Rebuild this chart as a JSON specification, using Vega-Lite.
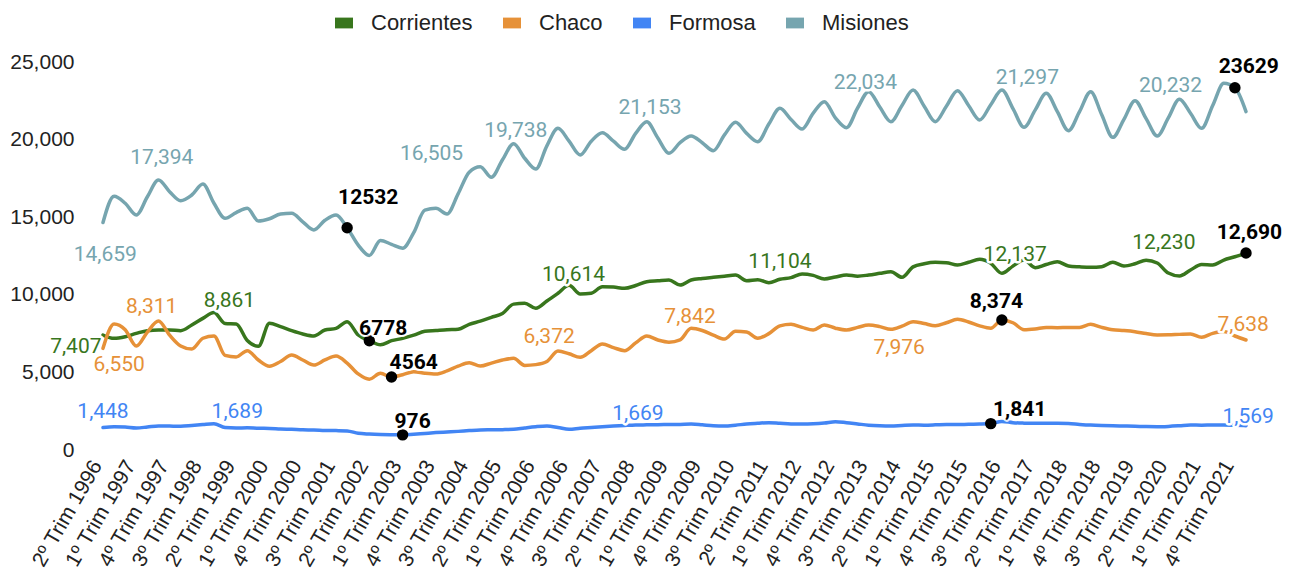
{
  "$schema": "https://vega.github.io/schema/vega-lite/v6.json",
  "width": 1143,
  "height": 388,
  "autosize": "none",
  "padding": {"left": 103, "top": 62, "right": 55, "bottom": 131},
  "background": "white",
  "datasets": {
    "series": [
      {"i":0,"Misiones":14659,"Corrientes":7407,"Chaco":6550,"Formosa":1448},
      {"i":1,"Misiones":16350,"Corrientes":7193,"Chaco":8117,"Formosa":1500},
      {"i":2,"Misiones":15900,"Corrientes":7300,"Chaco":7750,"Formosa":1480},
      {"i":3,"Misiones":15140,"Corrientes":7515,"Chaco":6700,"Formosa":1420},
      {"i":4,"Misiones":16320,"Corrientes":7687,"Chaco":7600,"Formosa":1480},
      {"i":5,"Misiones":17394,"Corrientes":7730,"Chaco":8311,"Formosa":1550},
      {"i":6,"Misiones":16645,"Corrientes":7730,"Chaco":7400,"Formosa":1540},
      {"i":7,"Misiones":16065,"Corrientes":7687,"Chaco":6700,"Formosa":1530},
      {"i":8,"Misiones":16430,"Corrientes":8052,"Chaco":6500,"Formosa":1580},
      {"i":9,"Misiones":17140,"Corrientes":8482,"Chaco":7200,"Formosa":1640},
      {"i":10,"Misiones":15900,"Corrientes":8861,"Chaco":7350,"Formosa":1689},
      {"i":11,"Misiones":14930,"Corrientes":8150,"Chaco":6100,"Formosa":1450},
      {"i":12,"Misiones":15300,"Corrientes":8117,"Chaco":6000,"Formosa":1420},
      {"i":13,"Misiones":15570,"Corrientes":7050,"Chaco":6400,"Formosa":1430},
      {"i":14,"Misiones":14750,"Corrientes":6680,"Chaco":5800,"Formosa":1400},
      {"i":15,"Misiones":14900,"Corrientes":8160,"Chaco":5400,"Formosa":1390},
      {"i":16,"Misiones":15200,"Corrientes":7945,"Chaco":5700,"Formosa":1350},
      {"i":17,"Misiones":15250,"Corrientes":7687,"Chaco":6121,"Formosa":1330},
      {"i":18,"Misiones":14700,"Corrientes":7472,"Chaco":5800,"Formosa":1300},
      {"i":19,"Misiones":14175,"Corrientes":7343,"Chaco":5477,"Formosa":1290},
      {"i":20,"Misiones":14800,"Corrientes":7730,"Chaco":5800,"Formosa":1260},
      {"i":21,"Misiones":15140,"Corrientes":7838,"Chaco":6057,"Formosa":1250},
      {"i":22,"Misiones":14325,"Corrientes":8267,"Chaco":5600,"Formosa":1230},
      {"i":23,"Misiones":13200,"Corrientes":7408,"Chaco":4900,"Formosa":1080},
      {"i":24,"Misiones":12532,"Corrientes":7043,"Chaco":4564,"Formosa":1030},
      {"i":25,"Misiones":13500,"Corrientes":6778,"Chaco":4940,"Formosa":1000},
      {"i":26,"Misiones":13250,"Corrientes":7043,"Chaco":4700,"Formosa":985},
      {"i":27,"Misiones":13000,"Corrientes":7193,"Chaco":4850,"Formosa":976},
      {"i":28,"Misiones":14000,"Corrientes":7400,"Chaco":5046,"Formosa":1020},
      {"i":29,"Misiones":15450,"Corrientes":7650,"Chaco":4950,"Formosa":1070},
      {"i":30,"Misiones":15570,"Corrientes":7700,"Chaco":4900,"Formosa":1120},
      {"i":31,"Misiones":15205,"Corrientes":7750,"Chaco":5100,"Formosa":1160},
      {"i":32,"Misiones":16505,"Corrientes":7775,"Chaco":5400,"Formosa":1200},
      {"i":33,"Misiones":17900,"Corrientes":8100,"Chaco":5625,"Formosa":1250},
      {"i":34,"Misiones":18250,"Corrientes":8300,"Chaco":5412,"Formosa":1290},
      {"i":35,"Misiones":17570,"Corrientes":8550,"Chaco":5600,"Formosa":1300},
      {"i":36,"Misiones":18700,"Corrientes":8800,"Chaco":5800,"Formosa":1310},
      {"i":37,"Misiones":19738,"Corrientes":9400,"Chaco":5905,"Formosa":1330},
      {"i":38,"Misiones":18800,"Corrientes":9450,"Chaco":5450,"Formosa":1420},
      {"i":39,"Misiones":18105,"Corrientes":9130,"Chaco":5500,"Formosa":1500},
      {"i":40,"Misiones":19600,"Corrientes":9600,"Chaco":5700,"Formosa":1545},
      {"i":41,"Misiones":20725,"Corrientes":10100,"Chaco":6372,"Formosa":1450},
      {"i":42,"Misiones":19900,"Corrientes":10614,"Chaco":6200,"Formosa":1330},
      {"i":43,"Misiones":19007,"Corrientes":10050,"Chaco":5970,"Formosa":1400},
      {"i":44,"Misiones":19900,"Corrientes":10100,"Chaco":6400,"Formosa":1450},
      {"i":45,"Misiones":20446,"Corrientes":10522,"Chaco":6830,"Formosa":1500},
      {"i":46,"Misiones":19900,"Corrientes":10500,"Chaco":6600,"Formosa":1545},
      {"i":47,"Misiones":19372,"Corrientes":10415,"Chaco":6400,"Formosa":1580},
      {"i":48,"Misiones":20400,"Corrientes":10600,"Chaco":6900,"Formosa":1610},
      {"i":49,"Misiones":21153,"Corrientes":10845,"Chaco":7345,"Formosa":1620},
      {"i":50,"Misiones":20100,"Corrientes":10900,"Chaco":7088,"Formosa":1630},
      {"i":51,"Misiones":19115,"Corrientes":10953,"Chaco":6950,"Formosa":1640},
      {"i":52,"Misiones":19800,"Corrientes":10630,"Chaco":7100,"Formosa":1650},
      {"i":53,"Misiones":20232,"Corrientes":10953,"Chaco":7842,"Formosa":1669},
      {"i":54,"Misiones":19800,"Corrientes":11050,"Chaco":7700,"Formosa":1620},
      {"i":55,"Misiones":19287,"Corrientes":11125,"Chaco":7400,"Formosa":1560},
      {"i":56,"Misiones":20300,"Corrientes":11200,"Chaco":7150,"Formosa":1545},
      {"i":57,"Misiones":21112,"Corrientes":11275,"Chaco":7650,"Formosa":1600},
      {"i":58,"Misiones":20400,"Corrientes":10910,"Chaco":7600,"Formosa":1674},
      {"i":59,"Misiones":19866,"Corrientes":10975,"Chaco":7200,"Formosa":1720},
      {"i":60,"Misiones":21000,"Corrientes":10780,"Chaco":7500,"Formosa":1760},
      {"i":61,"Misiones":22015,"Corrientes":11000,"Chaco":8000,"Formosa":1720},
      {"i":62,"Misiones":21300,"Corrientes":11104,"Chaco":8100,"Formosa":1680},
      {"i":63,"Misiones":20683,"Corrientes":11340,"Chaco":7900,"Formosa":1674},
      {"i":64,"Misiones":21700,"Corrientes":11250,"Chaco":7732,"Formosa":1690},
      {"i":65,"Misiones":22444,"Corrientes":11018,"Chaco":8054,"Formosa":1740},
      {"i":66,"Misiones":21400,"Corrientes":11150,"Chaco":7850,"Formosa":1824},
      {"i":67,"Misiones":20769,"Corrientes":11275,"Chaco":7732,"Formosa":1760},
      {"i":68,"Misiones":22034,"Corrientes":11200,"Chaco":7900,"Formosa":1680},
      {"i":69,"Misiones":23090,"Corrientes":11275,"Chaco":8050,"Formosa":1600},
      {"i":70,"Misiones":22100,"Corrientes":11383,"Chaco":7950,"Formosa":1560},
      {"i":71,"Misiones":21155,"Corrientes":11490,"Chaco":7775,"Formosa":1545},
      {"i":72,"Misiones":22200,"Corrientes":11125,"Chaco":7976,"Formosa":1580},
      {"i":73,"Misiones":23195,"Corrientes":11800,"Chaco":8270,"Formosa":1608},
      {"i":74,"Misiones":22150,"Corrientes":12000,"Chaco":8150,"Formosa":1600},
      {"i":75,"Misiones":21155,"Corrientes":12090,"Chaco":8010,"Formosa":1620},
      {"i":76,"Misiones":22150,"Corrientes":12070,"Chaco":8200,"Formosa":1651},
      {"i":77,"Misiones":23150,"Corrientes":11920,"Chaco":8420,"Formosa":1640},
      {"i":78,"Misiones":22200,"Corrientes":12100,"Chaco":8250,"Formosa":1660},
      {"i":79,"Misiones":21263,"Corrientes":12284,"Chaco":8000,"Formosa":1670},
      {"i":80,"Misiones":22250,"Corrientes":12026,"Chaco":7846,"Formosa":1700},
      {"i":81,"Misiones":23195,"Corrientes":11383,"Chaco":8374,"Formosa":1841},
      {"i":82,"Misiones":22000,"Corrientes":11855,"Chaco":8200,"Formosa":1760},
      {"i":83,"Misiones":20790,"Corrientes":12240,"Chaco":7750,"Formosa":1730},
      {"i":84,"Misiones":21900,"Corrientes":11750,"Chaco":7800,"Formosa":1720},
      {"i":85,"Misiones":22980,"Corrientes":11950,"Chaco":7900,"Formosa":1716},
      {"i":86,"Misiones":21800,"Corrientes":12133,"Chaco":7882,"Formosa":1716},
      {"i":87,"Misiones":20575,"Corrientes":11855,"Chaco":7900,"Formosa":1700},
      {"i":88,"Misiones":21800,"Corrientes":11800,"Chaco":7900,"Formosa":1650},
      {"i":89,"Misiones":23090,"Corrientes":11768,"Chaco":8097,"Formosa":1608},
      {"i":90,"Misiones":21600,"Corrientes":11811,"Chaco":7900,"Formosa":1580},
      {"i":91,"Misiones":20145,"Corrientes":12090,"Chaco":7750,"Formosa":1560},
      {"i":92,"Misiones":21300,"Corrientes":11855,"Chaco":7700,"Formosa":1545},
      {"i":93,"Misiones":22510,"Corrientes":12000,"Chaco":7625,"Formosa":1530},
      {"i":94,"Misiones":21350,"Corrientes":12230,"Chaco":7500,"Formosa":1510},
      {"i":95,"Misiones":20232,"Corrientes":12050,"Chaco":7410,"Formosa":1500},
      {"i":96,"Misiones":21400,"Corrientes":11400,"Chaco":7420,"Formosa":1520},
      {"i":97,"Misiones":22600,"Corrientes":11210,"Chaco":7450,"Formosa":1560},
      {"i":98,"Misiones":21700,"Corrientes":11597,"Chaco":7475,"Formosa":1608},
      {"i":99,"Misiones":20725,"Corrientes":11950,"Chaco":7260,"Formosa":1600},
      {"i":100,"Misiones":22200,"Corrientes":11920,"Chaco":7517,"Formosa":1610},
      {"i":101,"Misiones":23629,"Corrientes":12240,"Chaco":7638,"Formosa":1608},
      {"i":102,"Misiones":23345,"Corrientes":12450,"Chaco":7345,"Formosa":1590},
      {"i":103,"Misiones":21800,"Corrientes":12690,"Chaco":7088,"Formosa":1569}
    ],
    "dots": [
      {"s":"Misiones","i":22,"v":14325},
      {"s":"Misiones","i":102,"v":23345},
      {"s":"Corrientes","i":24,"v":7043},
      {"s":"Corrientes","i":103,"v":12690},
      {"s":"Chaco","i":26,"v":4700},
      {"s":"Chaco","i":81,"v":8374},
      {"s":"Formosa","i":27,"v":976},
      {"s":"Formosa","i":80,"v":1700}
    ],
    "labels": [
      {"s":"Misiones","i":0.2,"v":12565,"t":"14,659"},
      {"s":"Misiones","i":5.3,"v":18795,"t":"17,394"},
      {"s":"Misiones","i":29.6,"v":19072,"t":"16,505"},
      {"s":"Misiones","i":37.2,"v":20575,"t":"19,738"},
      {"s":"Misiones","i":49.3,"v":22055,"t":"21,153"},
      {"s":"Misiones","i":68.7,"v":23650,"t":"22,034"},
      {"s":"Misiones","i":83.3,"v":23950,"t":"21,297"},
      {"s":"Misiones","i":96.2,"v":23455,"t":"20,232"},
      {"s":"Corrientes","i":-2.45,"v":6617,"t":"7,407"},
      {"s":"Corrientes","i":11.4,"v":9620,"t":"8,861"},
      {"s":"Corrientes","i":42.4,"v":11276,"t":"10,614"},
      {"s":"Corrientes","i":61.0,"v":12133,"t":"11,104"},
      {"s":"Corrientes","i":82.2,"v":12565,"t":"12,137"},
      {"s":"Corrientes","i":95.6,"v":13318,"t":"12,230"},
      {"s":"Chaco","i":1.46,"v":5477,"t":"6,550"},
      {"s":"Chaco","i":4.39,"v":9235,"t":"8,311"},
      {"s":"Chaco","i":40.2,"v":7260,"t":"6,372"},
      {"s":"Chaco","i":52.9,"v":8548,"t":"7,842"},
      {"s":"Chaco","i":71.75,"v":6550,"t":"7,976"},
      {"s":"Chaco","i":102.75,"v":8054,"t":"7,638"},
      {"s":"Formosa","i":0.0,"v":2470,"t":"1,448"},
      {"s":"Formosa","i":12.1,"v":2470,"t":"1,689"},
      {"s":"Formosa","i":48.2,"v":2320,"t":"1,669"},
      {"s":"Formosa","i":103.2,"v":2146,"t":"1,569"}
    ],
    "notes": [
      {"s":"Misiones","i":23.9,"v":16218,"t":"12532"},
      {"s":"Misiones","i":103.25,"v":24697,"t":"23629"},
      {"s":"Corrientes","i":25.25,"v":7777,"t":"6778"},
      {"s":"Corrientes","i":103.3,"v":13963,"t":"12,690"},
      {"s":"Chaco","i":28.0,"v":5586,"t":"4564"},
      {"s":"Chaco","i":80.5,"v":9555,"t":"8,374"},
      {"s":"Formosa","i":27.9,"v":1823,"t":"976"},
      {"s":"Formosa","i":82.6,"v":2577,"t":"1,841"}
    ]
  },
  "encoding": {
    "x": {
      "field": "i",
      "type": "quantitative",
      "scale": {"domain": [0, 103], "nice": false, "zero": false},
      "axis": {
        "values": [0,3,6,9,12,15,18,21,24,27,30,33,36,39,42,45,48,51,54,57,60,63,66,69,72,75,78,81,84,87,90,93,96,99,102],
        "labelExpr": "(((datum.value + 1) % 4) + 1) + 'º Trim ' + (1996 + floor((datum.value + 1) / 4))",
        "labelAngle": -60,
        "labelAlign": "right",
        "labelBaseline": "middle",
        "labelFont": "Liberation Sans",
        "labelFontSize": 21,
        "labelColor": "#222222",
        "labelPadding": 12,
        "labelOffset": -6,
        "labelOverlap": false,
        "labelBound": false,
        "labelFlush": false,
        "domain": false,
        "ticks": false,
        "grid": false,
        "title": null
      }
    },
    "y": {
      "field": "v",
      "type": "quantitative",
      "scale": {"domain": [0, 25000], "nice": false},
      "axis": {
        "values": [0, 5000, 10000, 15000, 20000, 25000],
        "format": ",d",
        "labelFont": "Liberation Sans",
        "labelFontSize": 21,
        "labelColor": "#222222",
        "labelPadding": 29,
        "domain": false,
        "ticks": false,
        "grid": false,
        "title": null
      }
    }
  },
  "layer": [
    {
      "data": {"name": "series"},
      "transform": [{"fold": ["Corrientes", "Chaco", "Formosa", "Misiones"], "as": ["s", "v"]}],
      "mark": {"type": "line", "interpolate": "monotone", "strokeWidth": 3.5, "strokeCap": "round"},
      "encoding": {
        "color": {
          "field": "s",
          "type": "nominal",
          "scale": {"domain": ["Corrientes", "Chaco", "Formosa", "Misiones"], "range": ["#38761d", "#e69138", "#4285f4", "#76a5af"]},
          "legend": {
            "orient": "none",
            "legendX": 230,
            "legendY": -50,
            "direction": "horizontal",
            "title": null,
            "symbolType": "M-1,-0.6L1,-0.6L1,0.6L-1,0.6Z",
            "symbolSize": 324,
            "symbolStrokeWidth": 0,
            "labelFont": "Liberation Sans",
            "labelFontSize": 22,
            "labelColor": "#222222",
            "labelOffset": 16,
            "columnPadding": 28,
            "labelLimit": 300,
            "encode": {"symbols": {"update": {"fill": {"scale": "color", "field": "value"}, "opacity": {"value": 1}}}}
          }
        }
      }
    },
    {
      "data": {"name": "dots"},
      "mark": {"type": "circle", "size": 130, "color": "black", "opacity": 1},
      "encoding": {}
    },
    {
      "data": {"name": "labels"},
      "mark": {"type": "text", "font": "Roboto", "fontSize": 21, "fill": "white", "stroke": "white", "strokeWidth": 5, "strokeJoin": "round", "align": "center", "baseline": "middle"},
      "encoding": {"text": {"field": "t"}}
    },
    {
      "data": {"name": "labels"},
      "mark": {"type": "text", "font": "Roboto", "fontSize": 21, "align": "center", "baseline": "middle"},
      "encoding": {"text": {"field": "t"}, "color": {"field": "s", "type": "nominal"}}
    },
    {
      "data": {"name": "notes"},
      "mark": {"type": "text", "font": "Roboto", "fontSize": 21, "fontWeight": "bold", "fill": "white", "stroke": "white", "strokeWidth": 4, "strokeJoin": "round", "align": "center", "baseline": "middle", "opacity": 0.8},
      "encoding": {"text": {"field": "t"}}
    },
    {
      "data": {"name": "notes"},
      "mark": {"type": "text", "font": "Roboto", "fontSize": 21, "fontWeight": "bold", "color": "black", "align": "center", "baseline": "middle"},
      "encoding": {"text": {"field": "t"}}
    }
  ],
  "config": {"view": {"stroke": null}}
}
